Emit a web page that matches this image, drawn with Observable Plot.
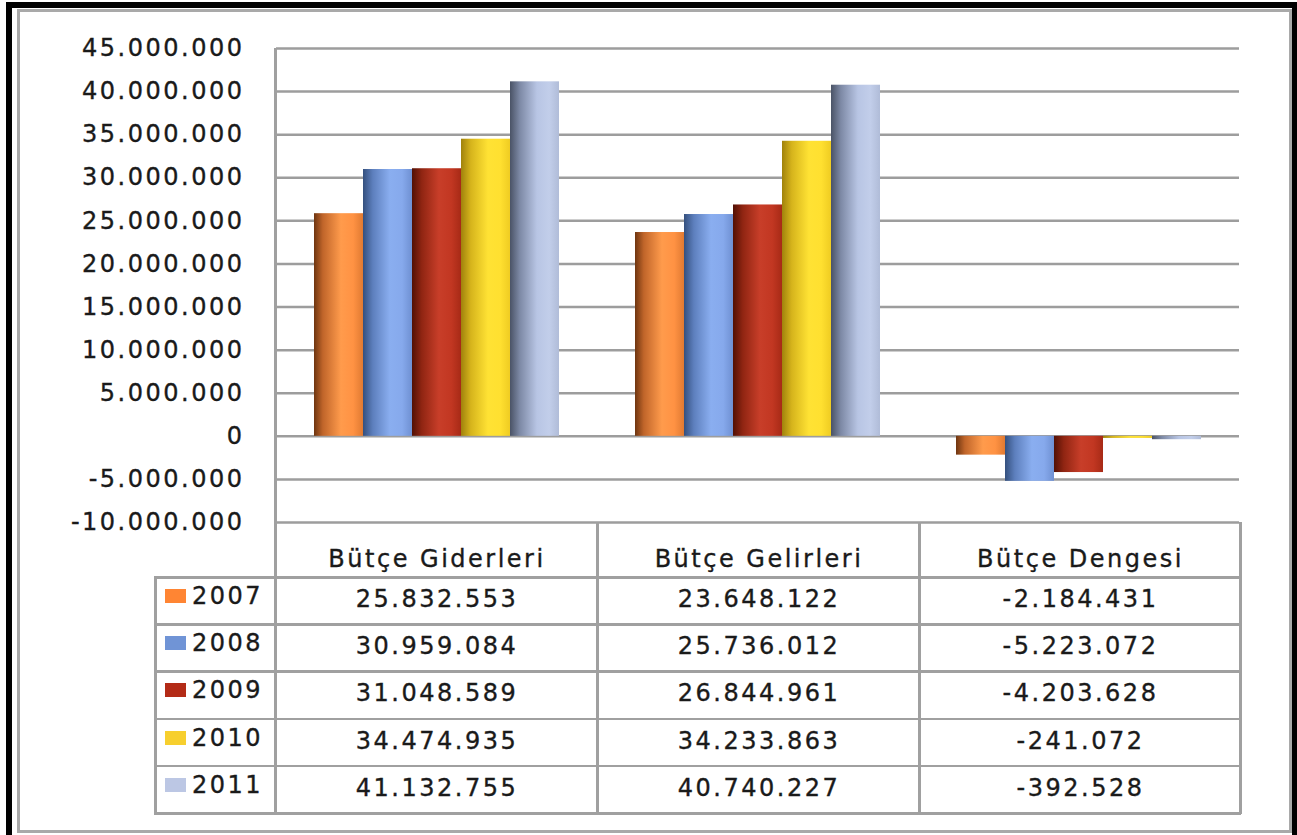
<!DOCTYPE html>
<html>
<head>
<meta charset="utf-8">
<script src="https://cdn.jsdelivr.net/npm/d3@7"></script>
<script src="https://cdn.jsdelivr.net/npm/@observablehq/plot@0.6"></script>
<style>
  html, body { margin: 0; padding: 0; background: #fff; }
  #page { position: relative; width: 1297px; height: 835px; overflow: hidden; background: #fff;
          font-family: "DejaVu Sans", Verdana, sans-serif; color: #1a1a1a; }
  .abs { position: absolute; box-sizing: border-box; }
  .txt { position: absolute; font-size: 24px; letter-spacing: 2.5px; white-space: nowrap; color: #1a1a1a;
         -webkit-text-stroke: 0.35px #1a1a1a; }
  svg text { stroke: #1a1a1a; stroke-width: 0.35px; }
</style>
</head>
<body>
<div id="page"></div>
<script>
// ---- data ----
const categories = ["Bütçe Giderleri", "Bütçe Gelirleri", "Bütçe Dengesi"];
const years = ["2007", "2008", "2009", "2010", "2011"];
const values2007 = [25832553, 23648122, -2184431];
const values2008 = [30959084, 25736012, -5223072];
const values2009 = [31048589, 26844961, -4203628];
const values2010 = [34474935, 34233863, -241072];
const values2011 = [41132755, 40740227, -392528];
const yTicks = [-10000000, -5000000, 0, 5000000, 10000000, 15000000, 20000000, 25000000, 30000000, 35000000, 40000000, 45000000];
const swatchColors = ["#ff8533", "#7094d6", "#b32b17", "#f7cf2e", "#bcc7e4"];
// gradient stops per year (dark left edge -> highlight -> right edge)
const gradientStops = [
  [["0", "#6e3510"], ["0.18", "#c0652a"], ["0.55", "#ff9b4c"], ["0.8", "#ff9243"], ["1", "#e07a32"]],
  [["0", "#34507e"], ["0.2", "#5d7fbd"], ["0.55", "#8aaef0"], ["0.8", "#86a9ec"], ["1", "#6f90d2"]],
  [["0", "#521004"], ["0.2", "#902512"], ["0.55", "#c83e29"], ["0.8", "#c23722"], ["1", "#a72a16"]],
  [["0", "#a0820c"], ["0.2", "#d6b41c"], ["0.55", "#ffe234"], ["0.8", "#ffe030"], ["1", "#efcc22"]],
  [["0", "#4a5366"], ["0.2", "#7d89a5"], ["0.55", "#b8c5e4"], ["0.8", "#c2ceea"], ["1", "#b0bcd8"]]
];

const series = [values2007, values2008, values2009, values2010, values2011];
const data = years.flatMap((yr, i) => categories.map((c, j) => ({year: yr, category: c, value: series[i][j]})));

const locale = d3.formatLocale({decimal: ",", thousands: ".", grouping: [3], currency: ["", ""], minus: "-"});
const fmt = locale.format(",d");

const page = document.getElementById("page");
function box(l, t, w, h, style) {
  const d = document.createElement("div");
  d.className = "abs";
  Object.assign(d.style, {left: l + "px", top: t + "px", width: w + "px", height: h + "px"}, style || {});
  page.appendChild(d);
  return d;
}

// outer frames
box(6, 2, 1291, 845, {borderLeft: "6px solid #000", borderTop: "6px solid #000", borderRight: "5px solid #000"});
box(17, 9, 1275, 824, {border: "3px solid #a9a9a9"});

// ---- chart ----
const W = 1297, H = 523;
const chart = Plot.plot({
  width: W,
  height: H,
  marginLeft: 275,
  marginRight: 57,
  marginTop: 48,
  marginBottom: 1,
  style: {background: "transparent", fontFamily: "DejaVu Sans, Verdana, sans-serif", fontSize: "24px", letterSpacing: "2.5px", color: "#1a1a1a", overflow: "visible"},
  fx: {domain: categories, padding: 0, axis: null},
  x: {domain: years, paddingInner: 0, paddingOuter: 0.75, axis: null},
  y: {domain: [-10000000, 45000000]},
  marks: [
    Plot.gridY(yTicks, {stroke: "#9d9d9d", strokeOpacity: 1, strokeWidth: 2.5}),
    ...years.map(yr => Plot.barY(data.filter(d => d.year === yr), {fx: "category", x: "year", y: "value", fill: `url(#grad${yr})`})),
    Plot.axisY(yTicks, {tickSize: 0, tickPadding: 32, tickFormat: fmt, label: null})
  ]
});
// gradients
const svgNS = "http://www.w3.org/2000/svg";
const defs = document.createElementNS(svgNS, "defs");
years.forEach((yr, i) => {
  const g = document.createElementNS(svgNS, "linearGradient");
  g.setAttribute("id", "grad" + yr);
  g.setAttribute("x1", "0"); g.setAttribute("x2", "1"); g.setAttribute("y1", "0"); g.setAttribute("y2", "0");
  gradientStops[i].forEach(([o, c]) => {
    const s = document.createElementNS(svgNS, "stop");
    s.setAttribute("offset", o); s.setAttribute("stop-color", c);
    g.appendChild(s);
  });
  defs.appendChild(g);
});
chart.insertBefore(defs, chart.firstChild);
chart.style.position = "absolute";
chart.style.left = "0px";
chart.style.top = "0px";
page.appendChild(chart);

// ---- data table ----
const lineC = "#a0a0a0", lw = 2.5;
const colX = [275, 597, 919, 1240];
const headTop = 522, headBottom = 577, rowH = 47.2;
const tableBottom = headBottom + rowH * years.length;
const legendLeft = 155;
// left axis line through chart and table
box(colX[0] - 1, 48, lw, tableBottom - 48 + 1, {background: lineC});
// vertical lines of table
colX.slice(1).forEach(x => box(x - 1, headTop, lw, tableBottom - headTop + 1, {background: lineC}));
box(legendLeft - 1, headBottom - 1, lw, tableBottom - headBottom + 2, {background: lineC});
// horizontal lines
box(legendLeft - 1, headBottom - 1, colX[3] - legendLeft + 1.5, lw, {background: lineC});
years.forEach((yr, i) => {
  const y = headBottom + rowH * (i + 1);
  box(legendLeft - 1, y - 1, colX[3] - legendLeft + 1.5, lw, {background: lineC});
});
// header texts
categories.forEach((c, j) => {
  const t = document.createElement("div");
  t.className = "txt";
  t.textContent = c;
  Object.assign(t.style, {left: colX[j] + "px", width: (colX[j + 1] - colX[j]) + "px", textAlign: "center", top: "545px", paddingLeft: "2px", boxSizing: "border-box"});
  page.appendChild(t);
});
// rows
years.forEach((yr, i) => {
  const top = headBottom + rowH * i;
  box(165, top + 12, 21, 14, {background: swatchColors[i]});
  const yl = document.createElement("div");
  yl.className = "txt";
  yl.textContent = yr;
  Object.assign(yl.style, {left: "192px", top: (top + 5) + "px"});
  page.appendChild(yl);
  categories.forEach((c, j) => {
    const t = document.createElement("div");
    t.className = "txt";
    t.textContent = fmt(series[i][j]);
    Object.assign(t.style, {left: colX[j] + "px", width: (colX[j + 1] - colX[j]) + "px", textAlign: "center", top: (top + 8) + "px", paddingLeft: "2px", boxSizing: "border-box"});
    page.appendChild(t);
  });
});
</script>
</body>
</html>
